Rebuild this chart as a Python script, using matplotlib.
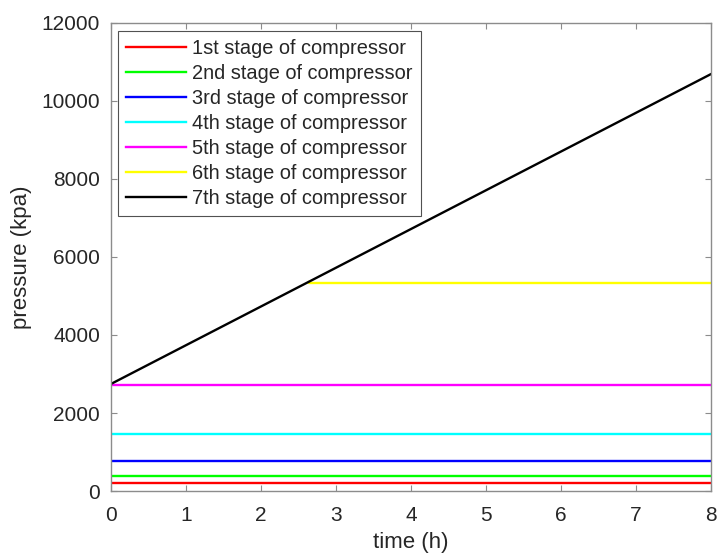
import matplotlib
matplotlib.use("Agg")
import matplotlib.pyplot as plt

plt.rcParams['font.family'] = ['Liberation Sans', 'DejaVu Sans']

labels = ['1st stage of compressor', '2nd stage of compressor', '3rd stage of compressor',
          '4th stage of compressor', '5th stage of compressor', '6th stage of compressor',
          '7th stage of compressor']
colors = ['#ff0000', '#00ff00', '#0000ff', '#00ffff', '#ff00ff', '#ffff00', '#000000']

t_flat = [0, 8]
p1 = [200, 200]
p2 = [390, 390]
p3 = [775, 775]
p4 = [1455, 1455]
p5 = [2720, 2720]
# 6th stage coincides with the 7th stage until ~2.64 h (hidden below the black line)
t6 = [2.64, 2.64, 8]
p6 = [5367, 5325, 5325]
t7 = [0, 8]
p7 = [2745, 10690]

fig = plt.figure(figsize=(7.17, 5.55), dpi=100)
ax = fig.add_axes([0.1548, 0.1153, 0.8368, 0.8433])

series = [(t_flat, p1), (t_flat, p2), (t_flat, p3), (t_flat, p4), (t_flat, p5), (t6, p6), (t7, p7)]
for (x, y), c, l in zip(series, colors, labels):
    ax.plot(x, y, color=c, lw=1.7, label=l)

ax.set_xlim(0, 8)
ax.set_ylim(0, 12000)
ax.set_xticks(range(0, 9))
ax.set_yticks(range(0, 12001, 2000))
ax.tick_params(direction='in', labelsize=15, length=4, color='#8c8c8c', labelcolor='#262626',
               top=True, right=True)
ax.tick_params(axis='y', pad=8)
ax.tick_params(axis='x', pad=11)
for s in ax.spines.values():
    s.set_color('#8c8c8c')
    s.set_linewidth(1.0)
ax.set_xlabel('time (h)', fontsize=16, labelpad=5, color='#262626')
ax.set_ylabel('pressure (kpa)', fontsize=16, labelpad=7, color='#262626')

leg = ax.legend(loc='upper left', fontsize=14.4, frameon=True, fancybox=False,
                edgecolor='#262626', handlelength=3.0, handletextpad=0.3,
                bbox_to_anchor=(0.012, 0.983),
                borderaxespad=0.0, labelspacing=0.3, borderpad=0.4)
leg.get_frame().set_linewidth(0.8)
for txt in leg.get_texts():
    txt.set_color('#262626')

fig.savefig('out.png', dpi=100)
